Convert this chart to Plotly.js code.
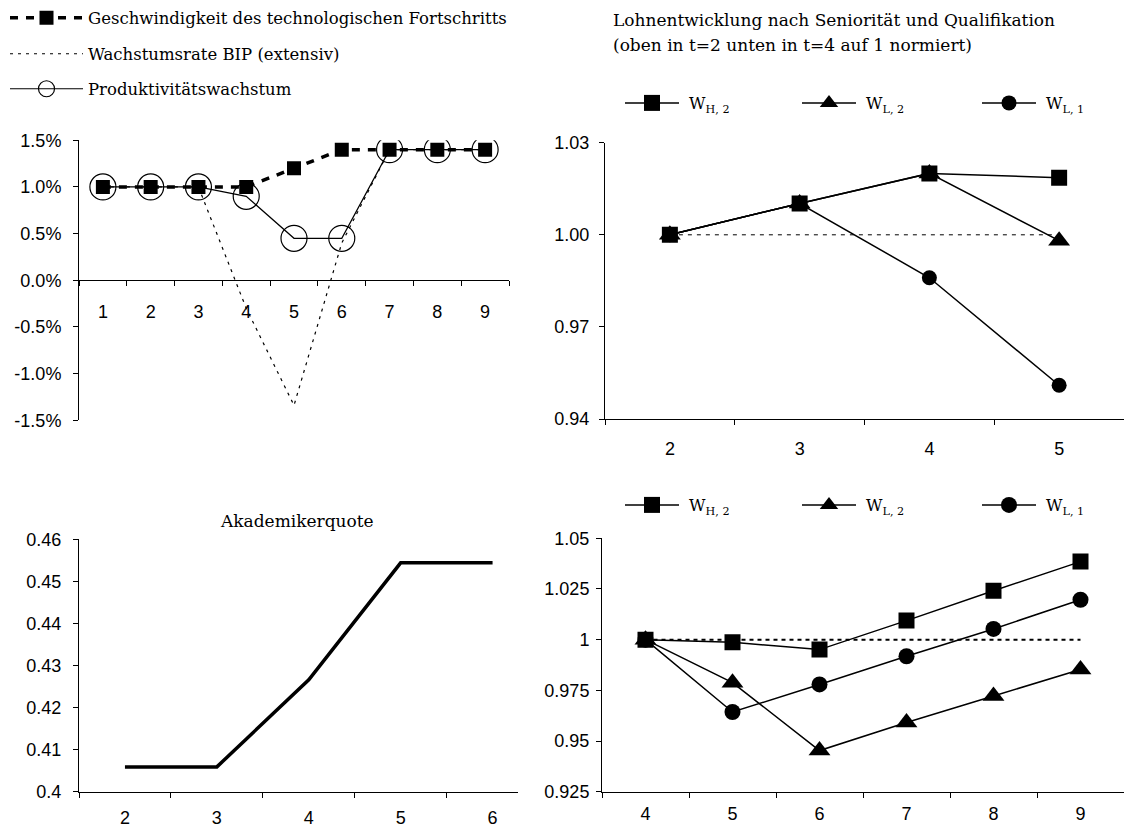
<!DOCTYPE html>
<html>
<head>
<meta charset="utf-8">
<script src="https://cdn.plot.ly/plotly-3.0.1.min.js"></script>
<style>html,body{margin:0;padding:0;background:#fff}</style>
</head>
<body>
<div id="chart" style="width:1124px;height:829px"></div>
<script>
// ---------- DATA ----------
// Top-left: growth rates
const tlPeriods = ['1','2','3','4','5','6','7','8','9'];
const techSpeed = [0.010, 0.010, 0.010, 0.010, 0.012, 0.014, 0.014, 0.014, 0.014];
const gdpGrowth = [0.010, 0.010, 0.010, -0.003, -0.0134, 0.004, 0.014, 0.014, 0.014];
const prodGrowth = [0.010, 0.010, 0.010, 0.009, 0.0045, 0.0045, 0.014, 0.014, 0.014];
const tlTickVals = [-0.015, -0.010, -0.005, 0, 0.005, 0.010, 0.015];
const tlTickText = ['-1.5%', '-1.0%', '-0.5%', '0.0%', '0.5%', '1.0%', '1.5%'];

// Top-right: wages normalised at t=2
const trPeriods = ['2','3','4','5'];
const trWH2 = [1.000, 1.0102, 1.0200, 1.0186];
const trWL2 = [1.000, 1.0102, 1.0200, 0.9981];
const trWL1 = [1.000, 1.0102, 0.9860, 0.9510];
const trBase = [1, 1, 1, 1];

// Bottom-left: Akademikerquote
const blPeriods = ['2','3','4','5','6'];
const academicRate = [0.4059, 0.4059, 0.4266, 0.4544, 0.4544];

// Bottom-right: wages normalised at t=4
const brPeriods = ['4','5','6','7','8','9'];
const brWH2 = [1.000, 0.9987, 0.9951, 1.0094, 1.0241, 1.0385];
const brWL2 = [1.000, 0.9788, 0.9453, 0.9591, 0.9722, 0.9853];
const brWL1 = [1.000, 0.9643, 0.9779, 0.9918, 1.0053, 1.0197];
const brBase = [1, 1, 1, 1, 1, 1];

// Labels
const seriesNames = {
  tech: 'Geschwindigkeit des technologischen Fortschritts',
  gdp: 'Wachstumsrate BIP (extensiv)',
  prod: 'Produktivitätswachstum',
  wh2: '\u00a0W<sub>H, 2</sub>',
  wl2: '\u00a0W<sub>L, 2</sub>',
  wl1: '\u00a0W<sub>L, 1</sub>'
};
const titleWagesLine1 = 'Lohnentwicklung nach Seniorität und Qualifikation';
const titleWagesLine2 = '(oben in t=2 unten in t=4 auf 1 normiert)';
const titleAcademic = 'Akademikerquote';

// ---------- HELPERS ----------
const W = 1124, H = 829;
const px = v => v / W;
const py = v => 1 - v / H;
const serif = 'DejaVu Serif, serif';
const sans = 'Arial, Liberation Sans, sans-serif';
const black = '#000';

function axisBase(extra) {
  return Object.assign({
    showline: true, linecolor: black, linewidth: 1,
    showgrid: false, zeroline: false,
    ticks: 'outside', ticklen: 5, tickwidth: 1, tickcolor: black,
    tickfont: {family: sans, size: 18, color: black},
    fixedrange: true
  }, extra);
}

const legendFont = {family: serif, size: 16.5, color: black};
const wFont = {family: serif, size: 16, color: black};
const titleFont = {family: serif, size: 17, color: black};

function legendAt(xPix, yPix, itemwidth, font) {
  return {x: px(xPix), y: py(yPix), xanchor: 'left', yanchor: 'middle', orientation: 'v',
    bgcolor: 'rgba(0,0,0,0)', borderwidth: 0, font: font, itemwidth: itemwidth,
    itemclick: false, itemdoubleclick: false};
}

const traces = [
  // top-left
  {x: tlPeriods, y: gdpGrowth, xaxis: 'x', yaxis: 'y', name: seriesNames.gdp, mode: 'lines',
   line: {color: black, width: 1.2, dash: '3px,5px'}, legend: 'legend2'},
  {x: tlPeriods, y: prodGrowth, xaxis: 'x', yaxis: 'y', name: seriesNames.prod, mode: 'lines+markers',
   line: {color: black, width: 1.2}, marker: {symbol: 'circle-open', size: 26, color: black, line: {width: 1.2, color: black}},
   legend: 'legend3'},
  {x: tlPeriods, y: techSpeed, xaxis: 'x', yaxis: 'y', name: seriesNames.tech, mode: 'lines+markers',
   line: {color: black, width: 3.5, dash: '8px,8px'}, marker: {symbol: 'square', size: 14, color: black},
   legend: 'legend'},

  // top-right
  {x: trPeriods, y: trBase, xaxis: 'x2', yaxis: 'y2', mode: 'lines', showlegend: false,
   line: {color: black, width: 1, dash: '4px,5px'}},
  {x: trPeriods, y: trWL1, xaxis: 'x2', yaxis: 'y2', name: seriesNames.wl1, mode: 'lines+markers',
   line: {color: black, width: 1.5}, marker: {symbol: 'circle', size: 15, color: black},
   legend: 'legend6'},
  {x: trPeriods, y: trWL2, xaxis: 'x2', yaxis: 'y2', name: seriesNames.wl2, mode: 'lines+markers',
   line: {color: black, width: 1.5}, marker: {symbol: 'triangle-up', size: 19, color: black},
   legend: 'legend5'},
  {x: trPeriods, y: trWH2, xaxis: 'x2', yaxis: 'y2', name: seriesNames.wh2, mode: 'lines+markers',
   line: {color: black, width: 1.5}, marker: {symbol: 'square', size: 16, color: black},
   legend: 'legend4'},

  // bottom-left
  {x: blPeriods, y: academicRate, xaxis: 'x3', yaxis: 'y3', mode: 'lines', showlegend: false,
   line: {color: black, width: 3.5}},

  // bottom-right
  {x: brPeriods, y: brBase, xaxis: 'x4', yaxis: 'y4', mode: 'lines', showlegend: false,
   line: {color: black, width: 2, dash: '4px,4px'}},
  {x: brPeriods, y: brWL1, xaxis: 'x4', yaxis: 'y4', name: seriesNames.wl1, mode: 'lines+markers',
   line: {color: black, width: 1.5}, marker: {symbol: 'circle', size: 16, color: black},
   legend: 'legend9'},
  {x: brPeriods, y: brWL2, xaxis: 'x4', yaxis: 'y4', name: seriesNames.wl2, mode: 'lines+markers',
   line: {color: black, width: 1.5}, marker: {symbol: 'triangle-up', size: 19, color: black},
   legend: 'legend8'},
  {x: brPeriods, y: brWH2, xaxis: 'x4', yaxis: 'y4', name: seriesNames.wh2, mode: 'lines+markers',
   line: {color: black, width: 1.5}, marker: {symbol: 'square', size: 16, color: black},
   legend: 'legend7'}
];

const layout = {
  width: W, height: H,
  margin: {l: 0, r: 0, t: 0, b: 0},
  paper_bgcolor: '#fff', plot_bgcolor: 'rgba(0,0,0,0)',
  showlegend: true,
  hovermode: false,

  xaxis: axisBase({domain: [px(79), px(509)], anchor: 'free', position: py(280.3),
    type: 'category', tickson: 'boundaries', range: [-0.5, 8.5], ticklabelstandoff: 15}),
  yaxis: axisBase({domain: [py(420.3), py(140.3)], anchor: 'x', range: [-0.015, 0.015],
    tickmode: 'array', tickvals: tlTickVals, ticktext: tlTickText, ticklabelstandoff: 8}),

  xaxis2: axisBase({domain: [px(605), 1], anchor: 'y2', type: 'category', tickson: 'boundaries',
    range: [-0.5, 3.5], ticklabelstandoff: 13}),
  yaxis2: axisBase({domain: [py(419), py(142.7)], anchor: 'x2', range: [0.94, 1.03],
    tickmode: 'linear', tick0: 0.94, dtick: 0.03, tickformat: '.2f', ticklabelstandoff: 6}),

  xaxis3: axisBase({domain: [px(79), px(518.3)], anchor: 'y3', type: 'category', tickson: 'boundaries',
    range: [-0.5, 4.28], ticklabelstandoff: 10}),
  yaxis3: axisBase({domain: [py(791.7), py(539.3)], anchor: 'x3', range: [0.4, 0.46],
    tickmode: 'linear', tick0: 0.4, dtick: 0.01, ticklabelstandoff: 8}),

  xaxis4: axisBase({domain: [px(602), 1], anchor: 'y4', type: 'category', tickson: 'boundaries',
    range: [-0.5, 5.5], ticklabelstandoff: 6}),
  yaxis4: axisBase({domain: [py(791.7), py(538.3)], anchor: 'x4', range: [0.925, 1.05],
    tickmode: 'linear', tick0: 0.925, dtick: 0.025, ticklabelstandoff: 3}),

  legend:  legendAt(5, 18, 73, legendFont),
  legend2: legendAt(5, 54, 73, legendFont),
  legend3: legendAt(5, 89, 73, legendFont),
  legend4: legendAt(620, 103, 54, wFont),
  legend5: legendAt(797, 103, 54, wFont),
  legend6: legendAt(977, 103, 54, wFont),
  legend7: legendAt(620, 505, 54, wFont),
  legend8: legendAt(797, 505, 54, wFont),
  legend9: legendAt(977, 505, 54, wFont),

  annotations: [
    {text: titleWagesLine1, x: px(611), y: py(20), xref: 'paper', yref: 'paper', xanchor: 'left', yanchor: 'middle',
     align: 'left', showarrow: false, font: titleFont},
    {text: titleWagesLine2, x: px(611), y: py(45), xref: 'paper', yref: 'paper', xanchor: 'left', yanchor: 'middle',
     align: 'left', showarrow: false, font: titleFont},
    {text: titleAcademic, x: px(296.5), y: py(521), xref: 'paper', yref: 'paper', xanchor: 'center', yanchor: 'middle',
     showarrow: false, font: titleFont}
  ]
};

Plotly.newPlot('chart', traces, layout, {displayModeBar: false, staticPlot: true});
</script>
</body>
</html>
